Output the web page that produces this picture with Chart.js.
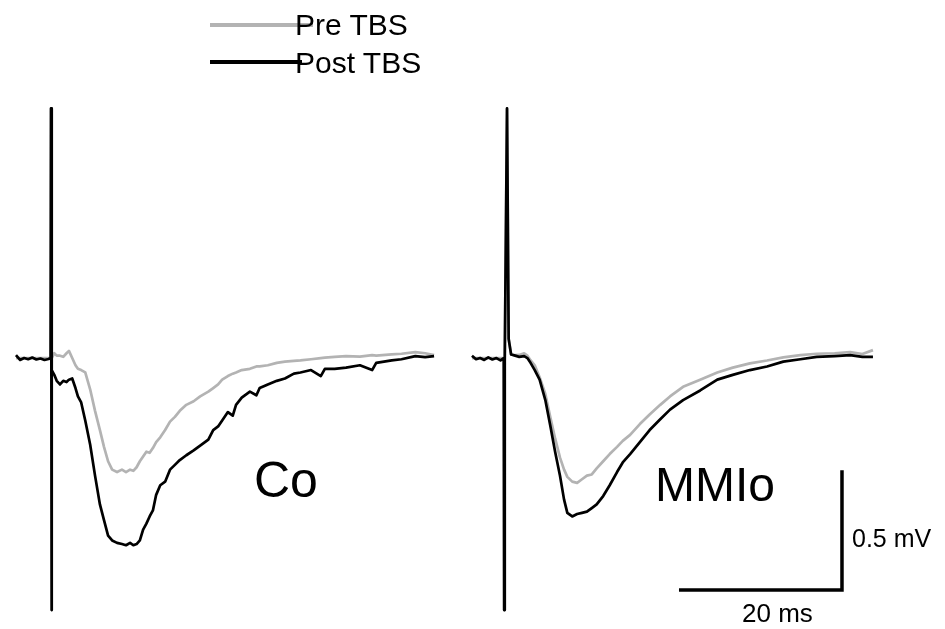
<!DOCTYPE html>
<html>
<head>
<meta charset="utf-8">
<script src="https://cdn.jsdelivr.net/npm/chart.js@4/dist/chart.umd.min.js"></script>
<style>
  html, body { margin: 0; padding: 0; background: #fff; }
  #wrap { position: relative; width: 945px; height: 629px; overflow: hidden; font-family: "Liberation Sans", Arial, sans-serif; color: #000; }
  canvas { position: absolute; top: 0; }
  .txt { position: absolute; line-height: 1; white-space: nowrap; }
  .legline { position: absolute; height: 4px; }
</style>
</head>
<body>
<div id="wrap">
  <canvas id="left" width="460" height="629" style="left:0"></canvas>
  <canvas id="right" width="485" height="629" style="left:460px"></canvas>

  <div class="legline" style="left:210px;top:23px;width:103px;background:#b3b3b3"></div>
  <div class="legline" style="left:210px;top:60px;width:92px;background:#000"></div>
  <div class="txt" style="left:295px;top:10px;font-size:30px">Pre TBS</div>
  <div class="txt" style="left:295px;top:48px;font-size:30px">Post TBS</div>

  <div class="txt" style="left:254px;top:455px;font-size:50px">Co</div>
  <div class="txt" style="left:655px;top:461px;font-size:48px">MMIo</div>
  <div class="txt" style="left:852px;top:526px;font-size:25px">0.5 mV</div>
  <div class="txt" style="left:742px;top:600px;font-size:26px">20 ms</div>
</div>
<script>
// ---------- Data (time in ms relative to stimulus, potential in mV) ----------
const seriesNames = ["Pre TBS", "Post TBS"];
const panelNames = ["Co", "MMIo"];

// Left panel (Co)
const coTime = [-4.3, -3.8, -3.3, -2.8, -2.3, -1.8, -1.3, -0.8, -0.3, -0.05, 0, 0.05, 0.12, 0.4, 0.7, 1.1, 1.5, 1.9, 2.2, 2.6, 3.0, 3.3,
  3.7, 4.2, 4.8, 5.4, 6.0, 6.5, 7.0, 7.5, 8.1, 8.7, 9.2, 9.7, 10.1, 10.5, 10.9, 11.3, 11.7, 12.1, 12.5, 12.9,
  13.4, 14.0, 14.6, 15.2, 15.8, 16.6, 17.5, 18.3, 19.3, 19.9, 20.5, 21.0, 21.7, 22.3, 22.7, 23.4, 24.4, 25.2, 25.6, 26.6,
  27.7, 28.7, 29.8, 30.6, 31.9, 33.1, 33.6, 34.8, 36.2, 37.9, 39.4, 39.9, 41.8, 43.0, 44.7, 45.9, 47.0];
const coPre = [0.0, 0.0, 0.0, 0.0, 0.0, 0.0, 0.0, 0.0, 0.0, 0.0, 1.04, -1.05, 0.0, 0.02, 0.01, 0.01, 0.005, 0.02, 0.03, 0.0, -0.03, -0.045,
  -0.05, -0.06, -0.13, -0.22, -0.30, -0.37, -0.43, -0.465, -0.475, -0.465, -0.475, -0.465, -0.47, -0.455, -0.43, -0.41, -0.39, -0.395, -0.375, -0.35,
  -0.33, -0.30, -0.265, -0.245, -0.22, -0.195, -0.18, -0.16, -0.14, -0.125, -0.11, -0.09, -0.075, -0.065, -0.06, -0.05, -0.045, -0.035, -0.035, -0.03,
  -0.02, -0.015, -0.012, -0.01, -0.005, 0.0, 0.002, 0.005, 0.008, 0.006, 0.012, 0.01, 0.015, 0.018, 0.025, 0.02, 0.012];
const coPost = [0.012, -0.008, 0.0, -0.005, 0.002, -0.006, -0.002, -0.008, -0.004, 0.0, 1.04, -1.05, -0.05, -0.07, -0.095, -0.11, -0.095, -0.1, -0.09, -0.085, -0.125, -0.16,
  -0.185, -0.26, -0.36, -0.49, -0.61, -0.675, -0.74, -0.76, -0.77, -0.775, -0.78, -0.77, -0.78, -0.775, -0.76, -0.715, -0.69, -0.66, -0.635, -0.57,
  -0.53, -0.515, -0.465, -0.445, -0.425, -0.405, -0.385, -0.365, -0.34, -0.30, -0.285, -0.26, -0.225, -0.24, -0.195, -0.165, -0.14, -0.155, -0.125, -0.11,
  -0.095, -0.085, -0.065, -0.06, -0.05, -0.075, -0.045, -0.045, -0.04, -0.03, -0.05, -0.02, -0.01, -0.005, 0.008, 0.004, 0.008];

// Right panel (MMIo)
const mmTime = [-4.3, -3.8, -3.3, -2.8, -2.3, -1.8, -1.3, -0.8, -0.4, -0.35, -0.28, 0.0, 0.2, 0.5, 1.0, 1.5, 2.1, 2.5, 2.8, 3.4, 4.0,
  4.7, 5.3, 5.9, 6.5, 7.0, 7.4, 8.0, 8.6, 9.2, 9.8, 10.4, 11.0, 11.8, 12.6, 13.5, 14.2, 15.1, 16.3, 17.5, 18.8,
  20.0, 21.6, 23.7, 25.8, 27.7, 29.8, 31.9, 33.9, 36.0, 38.0, 40.2, 42.1, 43.6, 44.9];
const mmPre = [0.0, 0.0, 0.0, 0.0, 0.0, 0.0, 0.0, 0.0, 0.0, -1.05, -0.01, 1.04, 0.08, 0.015, 0.012, 0.013, 0.02, 0.01, -0.005, -0.03, -0.08,
  -0.15, -0.245, -0.335, -0.415, -0.465, -0.495, -0.515, -0.52, -0.505, -0.49, -0.485, -0.46, -0.43, -0.40, -0.37, -0.345, -0.32, -0.275, -0.235, -0.195,
  -0.16, -0.12, -0.09, -0.06, -0.04, -0.022, -0.01, 0.003, 0.012, 0.018, 0.02, 0.025, 0.017, 0.033];
const mmPost = [0.01, -0.005, 0.0, -0.008, 0.003, -0.006, 0.0, -0.01, 0.0, -1.05, -0.01, 1.04, 0.08, 0.015, 0.01, 0.005, 0.008, 0.0, -0.015, -0.05, -0.09,
  -0.175, -0.28, -0.39, -0.49, -0.59, -0.645, -0.66, -0.65, -0.645, -0.64, -0.625, -0.61, -0.575, -0.53, -0.475, -0.435, -0.40, -0.35, -0.30, -0.255,
  -0.215, -0.175, -0.135, -0.09, -0.07, -0.05, -0.035, -0.015, -0.005, 0.005, 0.008, 0.012, 0.005, 0.005];

// Scale bar (ms, mV)
const scaleBarMs = 20;
const scaleBarMv = 0.5;
const scaleBarCorner = { t: 41.1, v: -0.967 };

// ---------- Styling / layout ----------
const preColor = "#b3b3b3";
const postColor = "#000000";
const yRange = { min: -1.129, max: 1.492 };
const leftXRange = { min: -6.26, max: 50.18 };
const rightXRange = { min: -5.77, max: 53.74 };

function pts(t, v) { return t.map((x, i) => ({ x: x, y: v[i] })); }

function makeChart(id, xr, pre, post, extra) {
  const datasets = [
    { label: seriesNames[0], data: pre, borderColor: preColor, borderWidth: 2.7, order: 2 },
    { label: seriesNames[1], data: post, borderColor: postColor, borderWidth: 2.7, order: 1 }
  ].concat(extra || []);
  return new Chart(document.getElementById(id), {
    type: "line",
    data: { datasets: datasets },
    options: {
      responsive: false,
      animation: false,
      devicePixelRatio: 1,
      layout: { padding: 0 },
      elements: { point: { radius: 0 }, line: { tension: 0, borderJoinStyle: "round", borderCapStyle: "butt" } },
      plugins: { legend: { display: false }, tooltip: { enabled: false } },
      scales: {
        x: { type: "linear", min: xr.min, max: xr.max, display: false },
        y: { type: "linear", min: yRange.min, max: yRange.max, display: false }
      }
    }
  });
}

makeChart("left", leftXRange, pts(coTime, coPre), pts(coTime, coPost));

const scaleBarData = [
  { x: scaleBarCorner.t - scaleBarMs, y: scaleBarCorner.v },
  { x: scaleBarCorner.t, y: scaleBarCorner.v },
  { x: scaleBarCorner.t, y: scaleBarCorner.v + scaleBarMv }
];
makeChart("right", rightXRange, pts(mmTime, mmPre), pts(mmTime, mmPost), [
  { label: "scale", data: scaleBarData, borderColor: "#000", borderWidth: 3.5, order: 0, borderJoinStyle: "miter" }
]);
</script>
</body>
</html>
